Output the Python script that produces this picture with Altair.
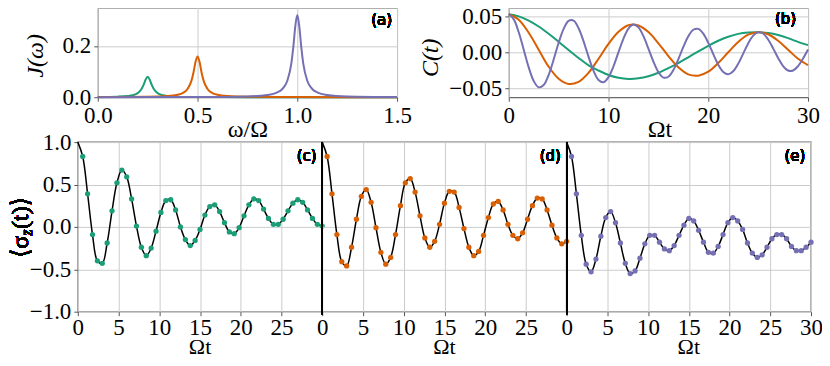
import altair as alt
import pandas as pd

SERIF = "Liberation Serif, DejaVu Serif"
SANS = "DejaVu Sans"
GREEN, ORANGE, PURPLE = "#1b9e77", "#d95f02", "#7570b3"

# ---------------- panel (a): spectral densities J(omega) ----------------
omega_g = [0.0, 0.1, 0.15, 0.175, 0.2, 0.22, 0.23, 0.24, 0.25, 0.26, 0.27, 0.28, 0.3, 0.325, 0.35, 0.4, 0.5, 0.75, 1.0, 1.5]
J_g = [0.0008, 0.0022, 0.0047, 0.008, 0.016, 0.0328, 0.0488, 0.069, 0.08, 0.069, 0.0488, 0.0328, 0.016, 0.008, 0.0047, 0.0022, 0.0008, 0.0002, 0.0001, 0.0]
omega_o = [0.0, 0.25, 0.35, 0.4, 0.425, 0.45, 0.47, 0.48, 0.49, 0.5, 0.51, 0.52, 0.53, 0.55, 0.575, 0.6, 0.65, 0.75, 1.0, 1.5]
J_o = [0.0004, 0.0016, 0.0043, 0.0094, 0.016, 0.032, 0.0656, 0.0976, 0.138, 0.159, 0.138, 0.0976, 0.0656, 0.032, 0.016, 0.0094, 0.0043, 0.0016, 0.0004, 0.0001]
omega_p = [0.0, 0.5, 0.75, 0.85, 0.9, 0.925, 0.95, 0.97, 0.98, 0.99, 1.0, 1.01, 1.02, 1.03, 1.05, 1.075, 1.1, 1.15, 1.25, 1.5]
J_p = [0.0002, 0.0008, 0.0032, 0.0087, 0.0188, 0.032, 0.064, 0.131, 0.195, 0.276, 0.32, 0.276, 0.195, 0.131, 0.064, 0.032, 0.0188, 0.0087, 0.0032, 0.0008]

# ---------------- panel (b): correlation functions C(t) ----------------
t_go = [0, 1, 2, 3, 4, 5, 6, 7, 8, 9, 10, 11, 12, 13, 14, 15, 16, 17, 18, 19, 20,
        21, 22, 23, 24, 25, 26, 27, 28, 29, 30]
C_g = [0.0530, 0.0501, 0.0442, 0.0360, 0.0259, 0.0147, 0.0032, -0.0079, -0.0181, -0.0253,
       -0.0315, -0.0354, -0.0370, -0.0362, -0.0333, -0.0285, -0.0221, -0.0150, -0.0069, 0.0012,
       0.0091, 0.0161, 0.0217, 0.0257, 0.0276, 0.0280, 0.0268, 0.0241, 0.0198, 0.0145, 0.0100]
C_o = [0.0530, 0.0454, 0.0272, 0.0035, -0.0200, -0.0368, -0.0440, -0.0410, -0.0284, -0.0089,
       0.0117, 0.0285, 0.0377, 0.0374, 0.0282, 0.0126, -0.0052, -0.0209, -0.0308, -0.0325,
       -0.0270, -0.0149, 0.0001, 0.0144, 0.0245, 0.0280, 0.0251, 0.0161, 0.0036, -0.0090, -0.0180]
t_p = [0, 0.5, 1, 1.5, 2, 2.5, 3, 3.5, 4, 4.5, 5, 5.5, 6, 6.5, 7, 7.5, 8, 8.5, 9, 9.5, 10,
       10.5, 11, 11.5, 12, 12.5, 13, 13.5, 14, 14.5, 15, 15.5, 16, 16.5, 17, 17.5, 18, 18.5, 19, 19.5, 20,
       20.5, 21, 21.5, 22, 22.5, 23, 23.5, 24, 24.5, 25, 25.5, 26, 26.5, 27, 27.5, 28, 28.5, 29, 29.5, 30]
C_p = [0.0530, 0.0459, 0.0279, 0.0036, -0.0210, -0.0399, -0.0487, -0.0455, -0.0313, -0.0100,
       0.0133, 0.0327, 0.0438, 0.0440, 0.0335, 0.0152, -0.0063, -0.0258, -0.0386, -0.0417,
       -0.0346, -0.0194, 0.0002, 0.0192, 0.0331, 0.0387, 0.0347, 0.0225, 0.0051, -0.0129,
       -0.0277, -0.0352, -0.0340, -0.0247, -0.0095, 0.0075, 0.0223, 0.0314, 0.0326, 0.0259,
       0.0131, -0.0025, -0.0172, -0.0273, -0.0306, -0.0264, -0.0159, -0.0018, 0.0123, 0.0232,
       0.0281, 0.0262, 0.0179, 0.0055, -0.0079, -0.0191, -0.0253, -0.0253, -0.0192, -0.0086, 0.0039]

# ---------------- panels (c)-(e): <sigma_z(t)> ----------------
t_dots = [0.6, 1.2, 1.8, 2.4, 3.0, 3.6, 4.2, 4.8, 5.4, 6.0, 6.6, 7.2, 7.8, 8.4, 9.0, 9.6, 10.2,
          10.8, 11.4, 12.0, 12.6, 13.2, 13.8, 14.4, 15.0, 15.6, 16.2, 16.8, 17.4, 18.0, 18.6, 19.2,
          19.8, 20.4, 21.0, 21.6, 22.2, 22.8, 23.4, 24.0, 24.6, 25.2, 25.8, 26.4, 27.0, 27.6, 28.2,
          28.8, 29.4, 30.0]
sz_c = [0.83, 0.39, -0.09, -0.40, -0.43, -0.19, 0.19, 0.52, 0.67, 0.59, 0.33, 0.01, -0.24, -0.34,
        -0.25, -0.05, 0.17, 0.31, 0.32, 0.20, 0.00, -0.15, -0.22, -0.16, -0.03, 0.14, 0.24, 0.26,
        0.18, 0.05, -0.06, -0.08, -0.01, 0.13, 0.26, 0.33, 0.31, 0.21, 0.10, 0.03, 0.03, 0.09, 0.19,
        0.28, 0.32, 0.29, 0.20, 0.10, 0.03, 0.01]
sz_d = [0.83, 0.39, -0.09, -0.41, -0.46, -0.24, 0.09, 0.36, 0.44, 0.29, -0.01, -0.30, -0.44, -0.36,
        -0.09, 0.25, 0.52, 0.57, 0.41, 0.13, -0.13, -0.24, -0.17, 0.03, 0.28, 0.42, 0.41, 0.23,
        -0.02, -0.24, -0.34, -0.29, -0.10, 0.11, 0.27, 0.30, 0.20, 0.03, -0.10, -0.14, -0.07, 0.09,
        0.25, 0.34, 0.33, 0.20, 0.02, -0.13, -0.20, -0.17]
sz_e = [0.83, 0.39, -0.10, -0.44, -0.53, -0.38, -0.11, 0.11, 0.18, 0.05, -0.19, -0.43, -0.55, -0.52,
        -0.37, -0.20, -0.10, -0.10, -0.18, -0.26, -0.28, -0.22, -0.10, 0.02, 0.10, 0.07, -0.04,
        -0.18, -0.30, -0.31, -0.23, -0.09, 0.05, 0.11, 0.07, -0.03, -0.19, -0.31, -0.36, -0.33,
        -0.24, -0.14, -0.09, -0.09, -0.14, -0.23, -0.28, -0.28, -0.24, -0.18]

sig_ticks = [-1.0, -0.75, -0.5, -0.25, 0.0, 0.25, 0.5, 0.75, 1.0]

color_scale = alt.Scale(domain=["g", "o", "p"], range=[GREEN, ORANGE, PURPLE])


def left_title(title, tx, ty):
    return dict(title=title, titleX=tx, titleY=ty, titleAngle=270, titleAlign="center",
                titleBaseline="middle", titleFontStyle="italic")


def bottom_title(title, tx, ty, size=24):
    return dict(title=title, titleX=tx, titleY=ty, titleAngle=0, titleAlign="center",
                titleBaseline="middle", titleFontSize=size)


# ---- (a)
df_a = pd.DataFrame({
    "w": omega_g + omega_o + omega_p,
    "J": J_g + J_o + J_p,
    "s": ["g"] * len(omega_g) + ["o"] * len(omega_o) + ["p"] * len(omega_p),
})
xa = alt.X("w:Q", scale=alt.Scale(domain=[0, 1.5], nice=False, zero=False),
           axis=alt.Axis(values=[0, 0.5, 1.0, 1.5], format=".1f", **bottom_title("ω/Ω", 150, 32)))
ya = alt.Y("J:Q", scale=alt.Scale(domain=[0, 0.35], nice=False),
           axis=alt.Axis(values=[0, 0.2], format=".1f", **left_title("J(ω)", -62, 48)))
lines_a = alt.Chart(df_a).mark_line(interpolate="monotone", strokeWidth=2).encode(
    x=xa, y=ya, color=alt.Color("s:N", scale=color_scale, legend=None))
lab_a = alt.Chart(df_a).mark_text(text="(a)", font=SANS, fontSize=15, align="right",
                                  baseline="middle").encode(x=alt.datum(1.475), y=alt.datum(0.30))
panel_a = alt.layer(lines_a, lab_a).properties(
    width=300, height=90, view=alt.ViewBackground(stroke="#444444", strokeWidth=1))

# ---- (b)
df_b = pd.DataFrame({
    "t": t_go + t_go + t_p,
    "C": C_g + C_o + C_p,
    "s": ["g"] * len(t_go) + ["o"] * len(t_go) + ["p"] * len(t_p),
})
xb = alt.X("t:Q", scale=alt.Scale(domain=[0, 30], nice=False),
           axis=alt.Axis(values=[0, 10, 20, 30], format="d", **bottom_title("Ωt", 151, 32)))
yb = alt.Y("C:Q", scale=alt.Scale(domain=[-0.0625, 0.0625], nice=False, zero=False),
           axis=alt.Axis(values=[-0.05, 0.0, 0.05], format=".2f", **left_title("C(t)", -78, 50)))
lines_b = alt.Chart(df_b).mark_line(interpolate="catmull-rom", strokeWidth=2).encode(
    x=xb, y=yb, color=alt.Color("s:N", scale=color_scale, legend=None))
lab_b = alt.Chart(df_b).mark_text(text="(b)", font=SANS, fontSize=15, align="right",
                                  baseline="middle").encode(x=alt.datum(28.8), y=alt.datum(0.046))
panel_b = alt.layer(lines_b, lab_b).properties(
    width=300, height=90, view=alt.ViewBackground(stroke="#444444", strokeWidth=1))


# ---- (c), (d), (e)
def bottom_panel(dots, color, label, first, last):
    df_d = pd.DataFrame({"t": t_dots, "s": dots})
    df_l = pd.DataFrame({"t": [0.0] + t_dots, "s": [1.0] + dots})
    xvals = [0, 5, 10, 15, 20, 25, 30] if last else [0, 5, 10, 15, 20, 25]
    x = alt.X("t:Q", scale=alt.Scale(domain=[0, 30], nice=False),
              axis=alt.Axis(values=xvals, format="d", grid=True, labelPadding=1,
                            **bottom_title("Ωt", 122, 35, 22)))
    if first:
        yaxis = alt.Axis(values=sig_ticks, format=".1f", grid=True, title="",
                         labelExpr="abs(datum.value*2 - round(datum.value*2)) < 0.001 ? datum.label : ''")
    else:
        yaxis = alt.Axis(values=sig_ticks, labels=False, ticks=False, grid=True, title="")
    y = alt.Y("s:Q", scale=alt.Scale(domain=[-1, 1], nice=False), axis=yaxis)
    line = alt.Chart(df_l).mark_line(color="black", strokeWidth=1.5,
                                     interpolate="catmull-rom").encode(x=x, y=y)
    pts = alt.Chart(df_d).mark_circle(color=color, size=28, opacity=1).encode(x="t:Q", y="s:Q")
    lab = alt.Chart(df_d).mark_text(text=label, font=SANS, fontSize=15, align="right",
                                    baseline="middle").encode(x=alt.datum(29.3), y=alt.datum(0.84))
    layers = [line, pts, lab]
    if not first:
        rule = alt.Chart(df_d).mark_rule(color="black", strokeWidth=1).encode(
            x=alt.datum(0), y=alt.datum(1.0), y2=alt.datum(-1.03))
        layers.insert(0, rule)
    else:
        t1 = alt.Chart(df_d).mark_text(text="⟨σ", font=SERIF, fontSize=24, angle=270,
                                       align="right", baseline="middle").encode(
            x=alt.value(-57), y=alt.value(94))
        t2 = alt.Chart(df_d).mark_text(text="z", font=SERIF, fontSize=16, fontStyle="italic",
                                       angle=270, align="left", baseline="middle").encode(
            x=alt.value(-51), y=alt.value(94))
        t3 = alt.Chart(df_d).mark_text(text="(t)⟩", font=SERIF, fontSize=24, angle=270,
                                       align="left", baseline="middle").encode(
            x=alt.value(-57), y=alt.value(87))
        layers += [t1, t2, t3]
    return alt.layer(*layers).properties(
        width=245, height=170, view=alt.ViewBackground(stroke="#999999", strokeWidth=1.5))


panel_c = bottom_panel(sz_c, GREEN, "(c)", True, False)
panel_d = bottom_panel(sz_d, ORANGE, "(d)", False, False)
panel_e = bottom_panel(sz_e, PURPLE, "(e)", False, True)


def spacer(w):
    return alt.Chart(pd.DataFrame({"v": [0]})).mark_point(opacity=0).encode(
        x=alt.value(0), y=alt.value(0)).properties(
        width=w, height=90, view=alt.ViewBackground(strokeOpacity=0))


row1 = alt.hconcat(spacer(20), panel_a, spacer(112), panel_b, spacing=0, bounds="flush")
row2 = alt.hconcat(panel_c, panel_d, panel_e, spacing=0, bounds="flush")

chart = alt.vconcat(row1, row2, spacing=-18).properties(
    padding={"left": 0, "right": -2, "top": -4, "bottom": -5}
).configure_axis(
    labelFont=SERIF, labelFontSize=23, labelColor="black",
    titleFont=SERIF, titleFontSize=24, titleFontWeight="normal", titleColor="black",
    tickColor="#555555", tickSize=4, labelPadding=3, domain=False,
    labelFlush=False, labelOverlap=False, gridColor="#cccccc", gridWidth=1,
).configure_view(stroke="#999999")

chart.save("out.html", embed_options={"renderer": "svg", "actions": False})
